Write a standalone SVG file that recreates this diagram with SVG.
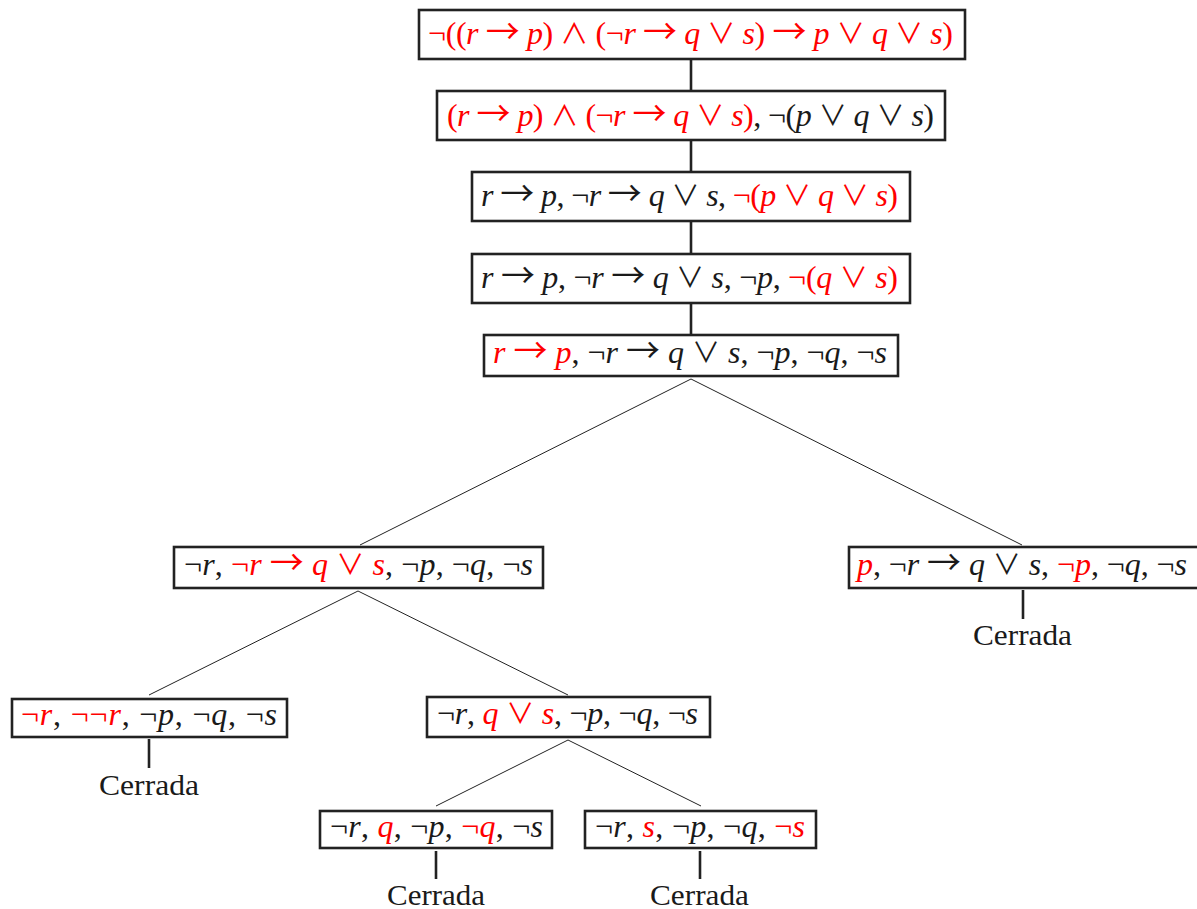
<svg xmlns="http://www.w3.org/2000/svg" width="1197" height="909" viewBox="0 0 1197 909">
<style>
.box{fill:#fff;stroke:#222;stroke-width:2.6}
.m{font-family:"Liberation Serif","DejaVu Serif",serif;font-size:32px;fill:#1a1a1a}
.i{font-style:italic}
.o{font-family:"Noto Sans CJK JP","DejaVu Serif",sans-serif;font-size:28px;font-weight:400}
.a{font-family:"Noto Sans CJK JP","DejaVu Serif",sans-serif;font-size:34px;font-weight:400}
.R{fill:#ff0000}
.c{font-family:"Liberation Serif","Times New Roman",serif;font-size:30px;fill:#1a1a1a}
.thick{stroke:#222;stroke-width:2.6;fill:none}
.thin{stroke:#222;stroke-width:1;fill:none}
</style>
<rect width="1197" height="909" fill="#fff"/>
<g id="connectors">
<line class="thick" x1="691" y1="60" x2="691" y2="90"/>
<line class="thick" x1="691" y1="141" x2="691" y2="172"/>
<line class="thick" x1="691" y1="222" x2="691" y2="254"/>
<line class="thick" x1="691" y1="304" x2="691" y2="335"/>
<line class="thin" x1="691" y1="379" x2="360" y2="545"/>
<line class="thin" x1="691" y1="379" x2="1022" y2="545"/>
<line class="thin" x1="358" y1="591" x2="149" y2="695"/>
<line class="thin" x1="358" y1="591" x2="568" y2="695"/>
<line class="thin" x1="568" y1="740" x2="436" y2="806"/>
<line class="thin" x1="568" y1="740" x2="701" y2="806"/>
<line class="thick" x1="1023" y1="590" x2="1023" y2="619"/>
<line class="thick" x1="149" y1="739" x2="149" y2="768"/>
<line class="thick" x1="436" y1="851" x2="436" y2="879"/>
<line class="thick" x1="700" y1="851" x2="700" y2="879"/>
</g>
<g id="n1">
<rect class="box" x="419" y="10" width="546" height="49"/>
<text class="m R" x="428" y="44" textLength="525" lengthAdjust="spacing">¬((<tspan class="i">r</tspan> <tspan class="a">→</tspan> <tspan class="i">p</tspan>) <tspan class="o">∧</tspan> (¬<tspan class="i">r</tspan> <tspan class="a">→</tspan> <tspan class="i">q</tspan> <tspan class="o">∨</tspan> <tspan class="i">s</tspan>) <tspan class="a">→</tspan> <tspan class="i">p</tspan> <tspan class="o">∨</tspan> <tspan class="i">q</tspan> <tspan class="o">∨</tspan> <tspan class="i">s</tspan>)</text>
</g>
<g id="n2">
<rect class="box" x="437" y="91" width="508" height="49"/>
<text class="m" x="447" y="126" textLength="487" lengthAdjust="spacing"><tspan class="R">(<tspan class="i">r</tspan> <tspan class="a">→</tspan> <tspan class="i">p</tspan>) <tspan class="o">∧</tspan> (¬<tspan class="i">r</tspan> <tspan class="a">→</tspan> <tspan class="i">q</tspan> <tspan class="o">∨</tspan> <tspan class="i">s</tspan>)</tspan>, ¬(<tspan class="i">p</tspan> <tspan class="o">∨</tspan> <tspan class="i">q</tspan> <tspan class="o">∨</tspan> <tspan class="i">s</tspan>)</text>
</g>
<g id="n3">
<rect class="box" x="472" y="172" width="438" height="49"/>
<text class="m" x="481" y="206" textLength="417" lengthAdjust="spacing"><tspan class="i">r</tspan> <tspan class="a">→</tspan> <tspan class="i">p</tspan>, ¬<tspan class="i">r</tspan> <tspan class="a">→</tspan> <tspan class="i">q</tspan> <tspan class="o">∨</tspan> <tspan class="i">s</tspan>, <tspan class="R">¬(<tspan class="i">p</tspan> <tspan class="o">∨</tspan> <tspan class="i">q</tspan> <tspan class="o">∨</tspan> <tspan class="i">s</tspan>)</tspan></text>
</g>
<g id="n4">
<rect class="box" x="472" y="254" width="438" height="49"/>
<text class="m" x="481" y="288" textLength="417" lengthAdjust="spacing"><tspan class="i">r</tspan> <tspan class="a">→</tspan> <tspan class="i">p</tspan>, ¬<tspan class="i">r</tspan> <tspan class="a">→</tspan> <tspan class="i">q</tspan> <tspan class="o">∨</tspan> <tspan class="i">s</tspan>, ¬<tspan class="i">p</tspan>, <tspan class="R">¬(<tspan class="i">q</tspan> <tspan class="o">∨</tspan> <tspan class="i">s</tspan>)</tspan></text>
</g>
<g id="n5">
<rect class="box" x="484" y="335" width="414" height="41"/>
<text class="m" x="493" y="363" textLength="394" lengthAdjust="spacing"><tspan class="R"><tspan class="i">r</tspan> <tspan class="a">→</tspan> <tspan class="i">p</tspan></tspan>, ¬<tspan class="i">r</tspan> <tspan class="a">→</tspan> <tspan class="i">q</tspan> <tspan class="o">∨</tspan> <tspan class="i">s</tspan>, ¬<tspan class="i">p</tspan>, ¬<tspan class="i">q</tspan>, ¬<tspan class="i">s</tspan></text>
</g>
<g id="n6">
<rect class="box" x="174" y="547" width="369" height="41"/>
<text class="m" x="184" y="575" textLength="349" lengthAdjust="spacing">¬<tspan class="i">r</tspan>, <tspan class="R">¬<tspan class="i">r</tspan> <tspan class="a">→</tspan> <tspan class="i">q</tspan> <tspan class="o">∨</tspan> <tspan class="i">s</tspan></tspan>, ¬<tspan class="i">p</tspan>, ¬<tspan class="i">q</tspan>, ¬<tspan class="i">s</tspan></text>
</g>
<g id="n7">
<rect class="box" x="849" y="547" width="360" height="41"/>
<text class="m" x="857" y="575" textLength="330" lengthAdjust="spacing"><tspan class="R i">p</tspan>, ¬<tspan class="i">r</tspan> <tspan class="a">→</tspan> <tspan class="i">q</tspan> <tspan class="o">∨</tspan> <tspan class="i">s</tspan>, <tspan class="R">¬<tspan class="i">p</tspan></tspan>, ¬<tspan class="i">q</tspan>, ¬<tspan class="i">s</tspan></text>
<text class="c" x="973" y="645" textLength="99" lengthAdjust="spacingAndGlyphs">Cerrada</text>
</g>
<g id="n8">
<rect class="box" x="12" y="699" width="275" height="38"/>
<text class="m" x="21" y="725" textLength="256" lengthAdjust="spacing"><tspan class="R">¬<tspan class="i">r</tspan></tspan>, <tspan class="R">¬¬<tspan class="i">r</tspan></tspan>, ¬<tspan class="i">p</tspan>, ¬<tspan class="i">q</tspan>, ¬<tspan class="i">s</tspan></text>
<text class="c" x="99" y="795" textLength="100" lengthAdjust="spacingAndGlyphs">Cerrada</text>
</g>
<g id="n9">
<rect class="box" x="427" y="697" width="283" height="40"/>
<text class="m" x="437" y="724" textLength="261" lengthAdjust="spacing">¬<tspan class="i">r</tspan>, <tspan class="R"><tspan class="i">q</tspan> <tspan class="o">∨</tspan> <tspan class="i">s</tspan></tspan>, ¬<tspan class="i">p</tspan>, ¬<tspan class="i">q</tspan>, ¬<tspan class="i">s</tspan></text>
</g>
<g id="n10">
<rect class="box" x="320" y="811" width="232" height="37"/>
<text class="m" x="330" y="837" textLength="213" lengthAdjust="spacing">¬<tspan class="i">r</tspan>, <tspan class="R i">q</tspan>, ¬<tspan class="i">p</tspan>, <tspan class="R">¬<tspan class="i">q</tspan></tspan>, ¬<tspan class="i">s</tspan></text>
<text class="c" x="387" y="905" textLength="98" lengthAdjust="spacingAndGlyphs">Cerrada</text>
</g>
<g id="n11">
<rect class="box" x="585" y="811" width="231" height="37"/>
<text class="m" x="595" y="837" textLength="210" lengthAdjust="spacing">¬<tspan class="i">r</tspan>, <tspan class="R i">s</tspan>, ¬<tspan class="i">p</tspan>, ¬<tspan class="i">q</tspan>, <tspan class="R">¬<tspan class="i">s</tspan></tspan></text>
<text class="c" x="650" y="905" textLength="99" lengthAdjust="spacingAndGlyphs">Cerrada</text>
</g>
</svg>
